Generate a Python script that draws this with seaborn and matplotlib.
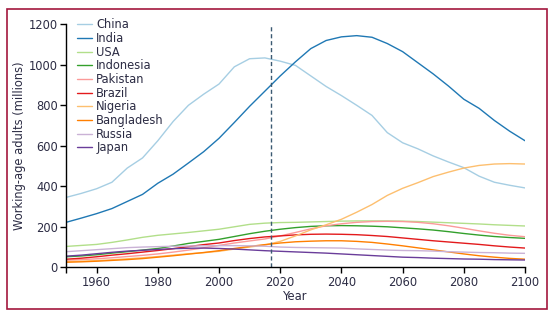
import numpy as np
import pandas as pd
import seaborn as sns
import matplotlib
matplotlib.use("Agg")
import matplotlib.pyplot as plt
from matplotlib.patches import Rectangle

years = list(range(1950, 2101, 5))

china = [345, 365, 388, 420, 490, 540, 625, 720, 800, 855, 905, 990, 1030, 1034,
         1018, 997, 945, 893, 848, 800, 750, 665, 615, 585, 550, 520, 492, 450,
         420, 405, 392]
india = [222, 243, 265, 290, 325, 360, 415, 460, 515, 571, 637, 715, 795, 870,
         945, 1015, 1080, 1120, 1138, 1144, 1136, 1105, 1065, 1010, 955, 895,
         830, 785, 725, 672, 625]
usa = [103, 108, 113, 123, 135, 148, 158, 165, 172, 180, 188, 200, 212, 218,
       221, 222, 224, 226, 228, 229, 229, 229, 228, 226, 223, 220, 217, 214,
       210, 207, 204]
indonesia = [52, 56, 62, 70, 77, 85, 93, 105, 118, 128, 138, 152, 166, 178,
             188, 196, 202, 205, 206, 205, 203, 200, 195, 190, 184, 176, 167,
             159, 152, 147, 143]
pakistan = [35, 38, 42, 47, 53, 59, 66, 75, 85, 96, 108, 120, 130, 140, 155,
            172, 190, 205, 215, 222, 226, 227, 226, 222, 215, 205, 193, 180,
            168, 158, 151]
brazil = [40, 45, 52, 60, 67, 75, 83, 92, 102, 112, 120, 132, 142, 150, 155,
          160, 163, 164, 163, 161, 157, 152, 145, 138, 131, 125, 119, 113, 106,
          100, 95]
nigeria = [28, 30, 33, 37, 42, 47, 53, 60, 67, 72, 79, 90, 100, 110, 128, 155,
           185, 210, 237, 272, 310, 355, 390, 418, 448, 470, 490, 503, 510,
           512, 510]
bangladesh = [25, 27, 30, 34, 38, 43, 50, 57, 65, 73, 82, 93, 103, 112, 120,
              126, 129, 131, 131, 128, 123, 115, 106, 96, 86, 76, 66, 57, 50,
              44, 40]
russia = [77, 82, 87, 92, 97, 100, 102, 104, 105, 106, 107, 107, 106, 104, 100,
          98, 97, 96, 95, 91, 88, 85, 83, 82, 80, 77, 75, 73, 72, 70, 69]
japan = [55, 60, 67, 74, 80, 84, 88, 92, 94, 95, 93, 90, 86, 82, 79, 76, 73,
         70, 66, 62, 58, 54, 50, 48, 45, 43, 41, 40, 38, 37, 36]

countries = ["China", "India", "USA", "Indonesia", "Pakistan", "Brazil",
             "Nigeria", "Bangladesh", "Russia", "Japan"]
series = [china, india, usa, indonesia, pakistan, brazil, nigeria, bangladesh,
          russia, japan]
colors = ["#a6cee3", "#1f78b4", "#b2df8a", "#33a02c", "#fb9a99", "#e31a1c",
          "#fdbf6f", "#ff7f00", "#cab2d6", "#6a3d9a"]

xticks = [1950, 1960, 1980, 2000, 2020, 2040, 2060, 2080, 2100]
xticklabels = ["", "1960", "1980", "2000", "2020", "2040", "2060", "2080", "2100"]
yticks = [0, 200, 400, 600, 800, 1000, 1200]
marker_year = 2017

df = pd.DataFrame({
    "Year": np.tile(years, len(countries)),
    "Working-age adults": np.concatenate(series),
    "Country": np.repeat(countries, len(years)),
})

sns.set_style("ticks")
plt.rcParams["font.family"] = ["Liberation Sans Narrow", "DejaVu Sans"]
text_color = "#2c2c44"

fig = plt.figure(figsize=(5.6, 3.21), dpi=100)
ax = fig.add_axes([0.1179, 0.1673, 0.8196, 0.757])

sns.lineplot(data=df, x="Year", y="Working-age adults", hue="Country",
             hue_order=countries, palette=colors, linewidth=1.0, ax=ax)

ax.axvline(marker_year, color="#3b5a72", linewidth=1.0, linestyle=(0, (3, 2)))

ax.set_xlim(1950, 2100)
ax.set_ylim(0, 1200)
ax.set_xticks(xticks)
ax.set_xticklabels(xticklabels)
ax.set_yticks(yticks)
ax.tick_params(direction="out", length=4, width=1, colors="black",
               labelsize=8.3, labelcolor=text_color, pad=2)
for side in ("top", "right"):
    ax.spines[side].set_visible(False)
for side in ("left", "bottom"):
    ax.spines[side].set_linewidth(1)
    ax.spines[side].set_color("black")

ax.set_xlabel("Year", fontsize=8.3, color=text_color, labelpad=1)
ax.set_ylabel("Working-age adults (millions)", fontsize=8.3, color=text_color,
              labelpad=2)

handles, labels = ax.get_legend_handles_labels()
ax.legend(handles, labels, loc="upper left", bbox_to_anchor=(0.023, 1.025),
          frameon=False, fontsize=8.3, handlelength=1.3, handletextpad=0.4,
          labelspacing=0.06, borderpad=0, borderaxespad=0,
          labelcolor=text_color)

fig.patches.append(Rectangle((7 / 560, 1 - 309 / 321), 540 / 560, 300 / 321,
                             transform=fig.transFigure, fill=False,
                             edgecolor="#a3173d", linewidth=1.2))

fig.savefig("out.png", dpi=100)
